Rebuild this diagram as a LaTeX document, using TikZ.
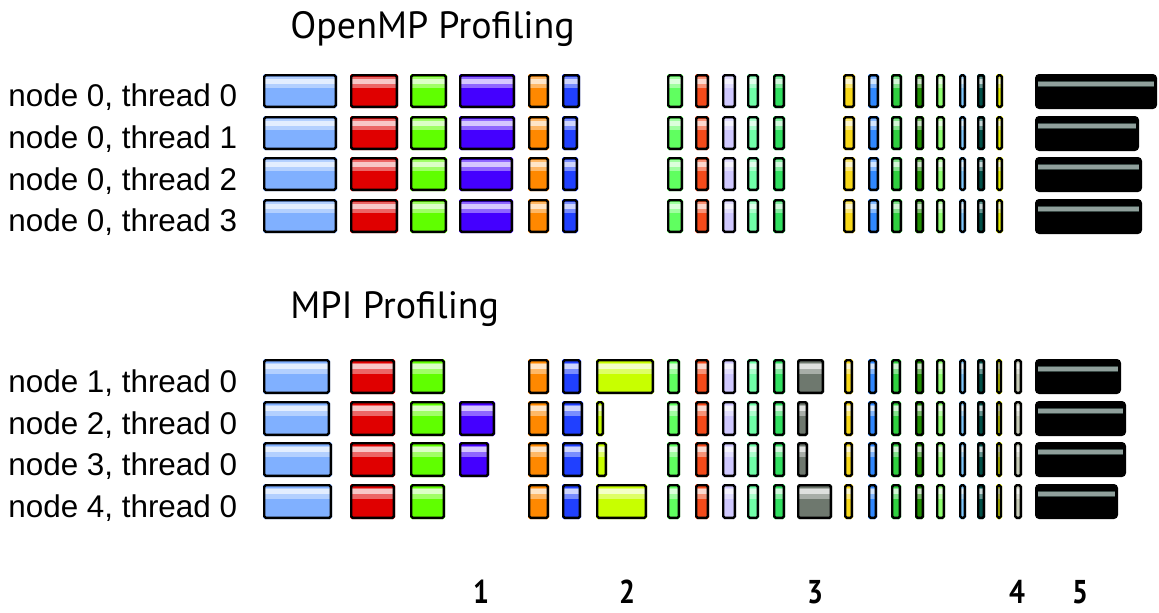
\documentclass[tikz,border=0pt]{standalone}
\usepackage{fontspec}
\setmainfont{Liberation Sans}
\newfontfamily\titlefont{PT Sans}
\usepackage{tikz}

\definecolor{skyA}{RGB}{128,176,255}
\definecolor{redB}{RGB}{224,0,0}
\definecolor{limeC}{RGB}{96,255,0}
\definecolor{violD}{RGB}{68,0,255}
\definecolor{orgE}{RGB}{255,136,0}
\definecolor{bluF}{RGB}{32,64,255}
\definecolor{grnG}{RGB}{96,255,96}
\definecolor{redH}{RGB}{245,74,26}
\definecolor{lavI}{RGB}{208,200,255}
\definecolor{mntJ}{RGB}{112,255,168}
\definecolor{grnK}{RGB}{48,224,96}
\definecolor{yelL}{RGB}{248,216,24}
\definecolor{bluM}{RGB}{48,136,255}
\definecolor{grnN}{RGB}{48,208,64}
\definecolor{dgrO}{RGB}{32,144,0}
\definecolor{lgrP}{RGB}{144,255,112}
\definecolor{lblQ}{RGB}{128,200,255}
\definecolor{tealR}{RGB}{0,80,72}
\definecolor{yelS}{RGB}{230,240,0}
\definecolor{ygrU}{RGB}{200,255,0}
\definecolor{gryV}{RGB}{110,120,110}
\definecolor{begW}{RGB}{200,204,184}
\definecolor{stripe}{RGB}{144,160,156}
\definecolor{stripeD}{RGB}{60,76,72}

% glossy bar: x1, x2, top, height, colour
\newcommand{\gloss}[5]{%
  \fill[#5, rounded corners=0.8pt] (#1,#3) rectangle (#2,{#3+#4});
  \fill[#5!60!white] ({#1+1.5},{#3+0.1*#4}) rectangle ({#2-1.5},{#3+0.42*#4});
  \fill[#5!22!white] ({#1+1.5},{#3+0.15*#4}) rectangle ({#2-1.5},{#3+0.29*#4});
  \draw[line width=1.15pt, rounded corners=0.8pt] ({#1+1.15},{#3+1.15}) rectangle ({#2-1.15},{#3+#4-1.15});}
% black bar: x1, x2, top, height
\newcommand{\blackbar}[4]{%
  \fill[black, rounded corners=2pt] (#1,#3) rectangle (#2,{#3+#4});
  \fill[stripeD] ({#1+3},{#3+0.19*#4}) rectangle ({#2-3},{#3+0.38*#4});
  \fill[stripe] ({#1+3},{#3+0.23*#4}) rectangle ({#2-3},{#3+0.33*#4});}

\tikzset{
  lbl/.style={anchor=base west, inner sep=0pt, font=\fontsize{15.7}{18}\selectfont},
  ttl/.style={anchor=base west, inner sep=0pt, font=\titlefont\fontsize{19}{22}\selectfont},
  num/.style={anchor=base, inner sep=0pt, font=\titlefont\bfseries\fontsize{16.5}{18}\selectfont}
}

\begin{document}
\begin{tikzpicture}[x=0.5pt, y=-0.5pt]

\fill[white] (0,0) rectangle (1159,612);
\useasboundingbox (0,0) rectangle (1159,612);

\node[ttl] (omp) at (290,38) {OpenMP Profiling};
\node[ttl] (mpi) at (290,318) {MPI Profiling};

\foreach \t/\y in {0/106,1/148,2/190,3/231}
  \node[lbl] (t\t) at (8,\y) {node 0, thread \t};
\foreach \n/\y in {1/392,2/434,3/475,4/517}
  \node[lbl] (m\n) at (8,\y) {node \n, thread 0};

\foreach \y/\dr/\fr/\tr in {74/515/580/1157,116/515/578/1139,157/513/578/1142,199/513/578/1142}{
  \gloss{263}{337}{\y}{34}{skyA}
  \gloss{350}{398}{\y}{34}{redB}
  \gloss{410}{447}{\y}{34}{limeC}
  \gloss{459}{\dr}{\y}{34}{violD}
  \gloss{528}{549}{\y}{34}{orgE}
  \gloss{562}{\fr}{\y}{34}{bluF}
  \foreach \xa/\xb/\c in {667/683/grnG,695/709/redH,722/736/lavI,747/759/mntJ,773/785/grnK,
      843/855/yelL,868/879/bluM,891/902/grnN,915/924/dgrO,936/945/lgrP,959/966/lblQ,977/985/tealR,996/1003/yelS}
    {\gloss{\xa}{\xb}{\y}{34}{\c}}
  \blackbar{1035}{\tr}{\y}{35}
}

\foreach \y/\ar/\fr/\ur/\vr/\tr in {359/330/581/654/824/1121,401/330/583/604/808/1126,442/332/583/607/808/1126,484/332/581/647/832/1118}{
  \gloss{263}{\ar}{\y}{35}{skyA}
  \gloss{350}{395}{\y}{35}{redB}
  \gloss{410}{445}{\y}{35}{limeC}
  \gloss{528}{549}{\y}{35}{orgE}
  \gloss{562}{\fr}{\y}{35}{bluF}
  \gloss{596}{\ur}{\y}{35}{ygrU}
  \foreach \xa/\xb/\c in {667/680/grnG,695/709/redH,722/736/lavI,747/759/mntJ,773/785/grnK}
    {\gloss{\xa}{\xb}{\y}{35}{\c}}
  \gloss{797}{\vr}{\y}{35}{gryV}
  \foreach \xa/\xb/\c in {844/853/yelL,868/877/bluM,891/901/grnN,915/924/dgrO,936/945/lgrP,
      959/966/lblQ,977/985/tealR,996/1002/yelS,1014/1022/begW}
    {\gloss{\xa}{\xb}{\y}{35}{\c}}
  \blackbar{1035}{\tr}{\y}{35}
}
\foreach \y/\dr in {401/495,442/489}
  {\gloss{459}{\dr}{\y}{35}{violD}}

\foreach \k/\x in {1/481,2/627,3/815,4/1017,5/1080}
  \node[num] (k\k) at (\x,603) {\scalebox{0.85}[1]{\k}};

\end{tikzpicture}
\end{document}
